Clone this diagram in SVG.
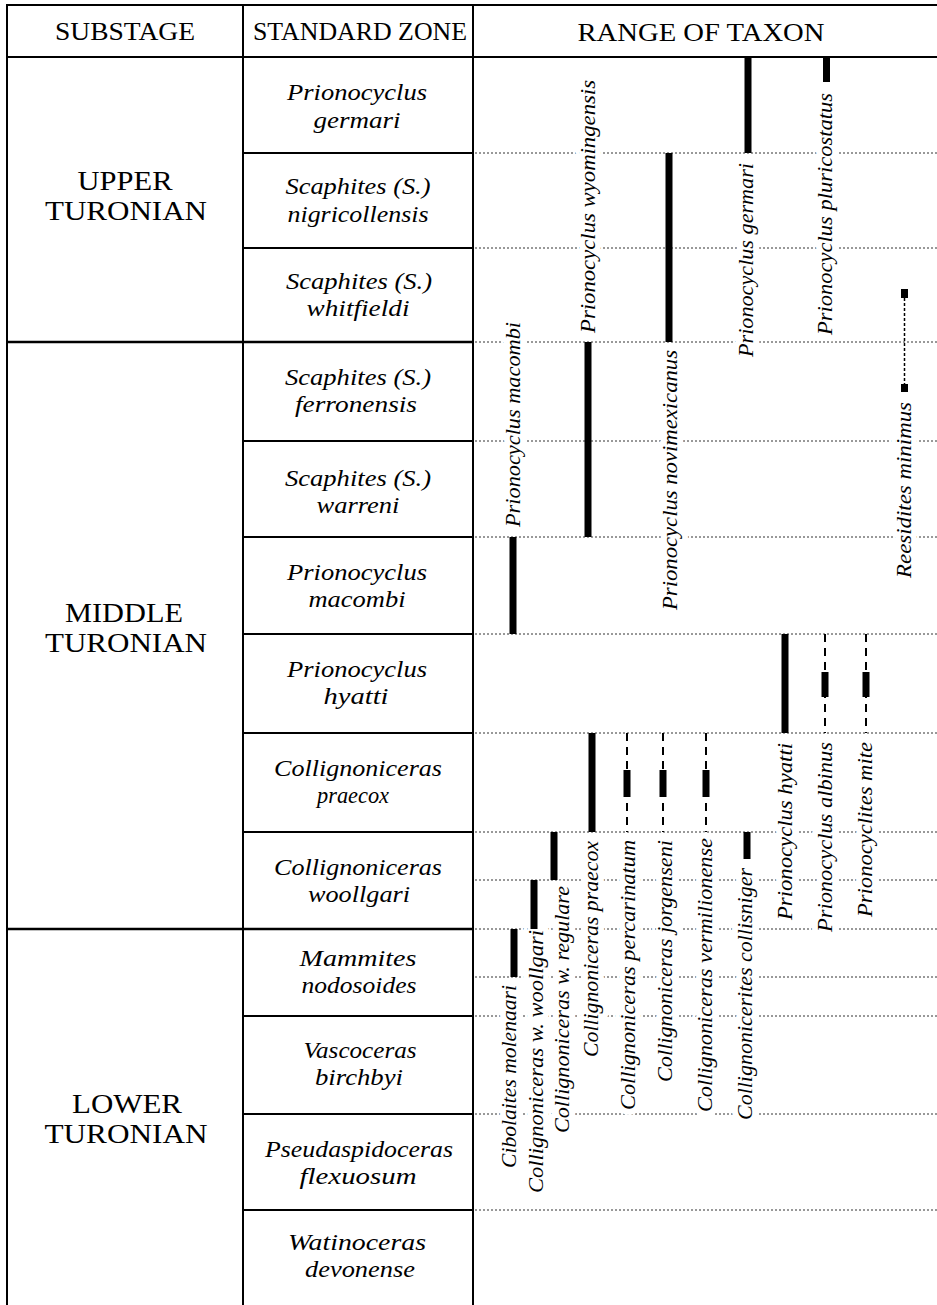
<svg xmlns="http://www.w3.org/2000/svg" width="937" height="1305" viewBox="0 0 937 1305">
<style>
.grid{stroke:#000;stroke-width:2;fill:none}
.sub{stroke:#000;stroke-width:2.5;fill:none}
.dot{stroke:#333;stroke-width:1;stroke-dasharray:2 2;fill:none}
.hd{font-family:"Liberation Serif","Times New Roman",serif;font-size:26px;fill:#000;text-anchor:middle}
.st{font-family:"Liberation Serif","Times New Roman",serif;font-size:27px;fill:#000;text-anchor:middle}
.zn{font-family:"Liberation Serif","Times New Roman",serif;font-style:italic;font-size:24px;fill:#000;text-anchor:middle}
.tx{font-family:"Liberation Serif","Times New Roman",serif;font-style:italic;font-size:22px;fill:#000;stroke:#fff;stroke-width:12px;stroke-linejoin:round;paint-order:stroke}
.bar{fill:#000}
.dash{stroke:#000;stroke-width:2;stroke-dasharray:8 6;fill:none}
.fine{stroke:#000;stroke-width:1.5;stroke-dasharray:3 2;fill:none}
</style>
<rect width="937" height="1305" fill="#fff"/>

<g id="zone-boundaries-range">
<line class="dot" x1="475" y1="153" x2="937" y2="153"/>
<line class="dot" x1="475" y1="248" x2="937" y2="248"/>
<line class="dot" x1="475" y1="342" x2="937" y2="342"/>
<line class="dot" x1="475" y1="441" x2="937" y2="441"/>
<line class="dot" x1="475" y1="537" x2="937" y2="537"/>
<line class="dot" x1="475" y1="634" x2="937" y2="634"/>
<line class="dot" x1="475" y1="733" x2="937" y2="733"/>
<line class="dot" x1="475" y1="832" x2="937" y2="832"/>
<line class="dot" x1="475" y1="880" x2="937" y2="880"/>
<line class="dot" x1="475" y1="929" x2="937" y2="929"/>
<line class="dot" x1="475" y1="977" x2="937" y2="977"/>
<line class="dot" x1="475" y1="1016" x2="937" y2="1016"/>
<line class="dot" x1="475" y1="1114" x2="937" y2="1114"/>
<line class="dot" x1="475" y1="1210" x2="937" y2="1210"/>
</g>

<g id="table-grid">
<line class="grid" x1="7" y1="5" x2="937" y2="5"/>
<line class="grid" x1="7" y1="57" x2="937" y2="57"/>
<line class="grid" x1="7" y1="4" x2="7" y2="1305"/>
<line class="grid" x1="243" y1="4" x2="243" y2="1305"/>
<line class="grid" x1="473" y1="4" x2="473" y2="1305"/>
<line class="sub" x1="7" y1="342" x2="473" y2="342"/>
<line class="sub" x1="7" y1="929" x2="473" y2="929"/>
<line class="grid" x1="243" y1="153" x2="473" y2="153"/>
<line class="grid" x1="243" y1="248" x2="473" y2="248"/>
<line class="grid" x1="243" y1="441" x2="473" y2="441"/>
<line class="grid" x1="243" y1="537" x2="473" y2="537"/>
<line class="grid" x1="243" y1="634" x2="473" y2="634"/>
<line class="grid" x1="243" y1="733" x2="473" y2="733"/>
<line class="grid" x1="243" y1="832" x2="473" y2="832"/>
<line class="grid" x1="243" y1="1016" x2="473" y2="1016"/>
<line class="grid" x1="243" y1="1114" x2="473" y2="1114"/>
<line class="grid" x1="243" y1="1210" x2="473" y2="1210"/>
</g>

<g id="headers">
<text class="hd" x="125" y="40" textLength="140" lengthAdjust="spacingAndGlyphs">SUBSTAGE</text>
<text class="hd" x="360" y="40" textLength="214" lengthAdjust="spacingAndGlyphs">STANDARD ZONE</text>
<text class="hd" x="701" y="41" textLength="247" lengthAdjust="spacingAndGlyphs">RANGE OF TAXON</text>
</g>

<g id="substage-upper">
<text class="st" x="125" y="190" textLength="95" lengthAdjust="spacingAndGlyphs">UPPER</text>
<text class="st" x="126" y="220" textLength="162" lengthAdjust="spacingAndGlyphs">TURONIAN</text>
</g>
<g id="substage-middle">
<text class="st" x="124" y="622" textLength="118" lengthAdjust="spacingAndGlyphs">MIDDLE</text>
<text class="st" x="126" y="652" textLength="162" lengthAdjust="spacingAndGlyphs">TURONIAN</text>
</g>
<g id="substage-lower">
<text class="st" x="127" y="1113" textLength="110" lengthAdjust="spacingAndGlyphs">LOWER</text>
<text class="st" x="126" y="1143" textLength="163" lengthAdjust="spacingAndGlyphs">TURONIAN</text>
</g>

<g id="zone-germari">
<text class="zn" x="357" y="100" textLength="140" lengthAdjust="spacingAndGlyphs">Prionocyclus</text>
<text class="zn" x="357" y="128" textLength="87" lengthAdjust="spacingAndGlyphs">germari</text>
</g>
<g id="zone-nigricollensis">
<text class="zn" x="358" y="194" textLength="145" lengthAdjust="spacingAndGlyphs">Scaphites (S.)</text>
<text class="zn" x="358" y="222" textLength="141" lengthAdjust="spacingAndGlyphs">nigricollensis</text>
</g>
<g id="zone-whitfieldi">
<text class="zn" x="359" y="289" textLength="146" lengthAdjust="spacingAndGlyphs">Scaphites (S.)</text>
<text class="zn" x="358" y="316" textLength="103" lengthAdjust="spacingAndGlyphs">whitfieldi</text>
</g>
<g id="zone-ferronensis">
<text class="zn" x="358" y="385" textLength="146" lengthAdjust="spacingAndGlyphs">Scaphites (S.)</text>
<text class="zn" x="356" y="412" textLength="122" lengthAdjust="spacingAndGlyphs">ferronensis</text>
</g>
<g id="zone-warreni">
<text class="zn" x="358" y="486" textLength="146" lengthAdjust="spacingAndGlyphs">Scaphites (S.)</text>
<text class="zn" x="358" y="513" textLength="83" lengthAdjust="spacingAndGlyphs">warreni</text>
</g>
<g id="zone-macombi">
<text class="zn" x="357" y="580" textLength="140" lengthAdjust="spacingAndGlyphs">Prionocyclus</text>
<text class="zn" x="357" y="607" textLength="97" lengthAdjust="spacingAndGlyphs">macombi</text>
</g>
<g id="zone-hyatti">
<text class="zn" x="357" y="677" textLength="140" lengthAdjust="spacingAndGlyphs">Prionocyclus</text>
<text class="zn" x="356" y="704" textLength="65" lengthAdjust="spacingAndGlyphs">hyatti</text>
</g>
<g id="zone-praecox">
<text class="zn" x="358" y="776" textLength="168" lengthAdjust="spacingAndGlyphs">Collignoniceras</text>
<text class="zn" x="353" y="803" textLength="72" lengthAdjust="spacingAndGlyphs">praecox</text>
</g>
<g id="zone-woollgari">
<text class="zn" x="358" y="875" textLength="168" lengthAdjust="spacingAndGlyphs">Collignoniceras</text>
<text class="zn" x="359" y="902" textLength="102" lengthAdjust="spacingAndGlyphs">woollgari</text>
</g>
<g id="zone-nodosoides">
<text class="zn" x="358" y="966" textLength="117" lengthAdjust="spacingAndGlyphs">Mammites</text>
<text class="zn" x="359" y="993" textLength="115" lengthAdjust="spacingAndGlyphs">nodosoides</text>
</g>
<g id="zone-birchbyi">
<text class="zn" x="360" y="1058" textLength="113" lengthAdjust="spacingAndGlyphs">Vascoceras</text>
<text class="zn" x="359" y="1085" textLength="88" lengthAdjust="spacingAndGlyphs">birchbyi</text>
</g>
<g id="zone-flexuosum">
<text class="zn" x="359" y="1157" textLength="188" lengthAdjust="spacingAndGlyphs">Pseudaspidoceras</text>
<text class="zn" x="358" y="1184" textLength="117" lengthAdjust="spacingAndGlyphs">flexuosum</text>
</g>
<g id="zone-devonense">
<text class="zn" x="357" y="1250" textLength="138" lengthAdjust="spacingAndGlyphs">Watinoceras</text>
<text class="zn" x="360" y="1277" textLength="110" lengthAdjust="spacingAndGlyphs">devonense</text>
</g>

<g id="taxon-labels">
<text class="tx" transform="translate(516,1168) rotate(-90)" textLength="183" lengthAdjust="spacingAndGlyphs">Cibolaites molenaari</text>
<text class="tx" transform="translate(543,1193) rotate(-90)" textLength="263" lengthAdjust="spacingAndGlyphs">Collignoniceras w. woollgari</text>
<text class="tx" transform="translate(569,1133) rotate(-90)" textLength="247" lengthAdjust="spacingAndGlyphs">Collignoniceras w. regulare</text>
<text class="tx" transform="translate(598,1057) rotate(-90)" textLength="216" lengthAdjust="spacingAndGlyphs">Collignoniceras praecox</text>
<text class="tx" transform="translate(635,1110) rotate(-90)" textLength="270" lengthAdjust="spacingAndGlyphs">Collignoniceras percarinatum</text>
<text class="tx" transform="translate(672,1082) rotate(-90)" textLength="242" lengthAdjust="spacingAndGlyphs">Collignoniceras jorgenseni</text>
<text class="tx" transform="translate(712,1112) rotate(-90)" textLength="274" lengthAdjust="spacingAndGlyphs">Collignoniceras vermilionense</text>
<text class="tx" transform="translate(752,1120) rotate(-90)" textLength="252" lengthAdjust="spacingAndGlyphs">Collignonicerites collisniger</text>
<text class="tx" transform="translate(792,920) rotate(-90)" textLength="177" lengthAdjust="spacingAndGlyphs">Prionocyclus hyatti</text>
<text class="tx" transform="translate(832,932) rotate(-90)" textLength="190" lengthAdjust="spacingAndGlyphs">Prionocyclus albinus</text>
<text class="tx" transform="translate(872,917) rotate(-90)" textLength="175" lengthAdjust="spacingAndGlyphs">Prionocyclites mite</text>
<text class="tx" transform="translate(520,527) rotate(-90)" textLength="205" lengthAdjust="spacingAndGlyphs">Prionocyclus macombi</text>
<text class="tx" transform="translate(595,333) rotate(-90)" textLength="253" lengthAdjust="spacingAndGlyphs">Prionocyclus wyomingensis</text>
<text class="tx" transform="translate(677,610) rotate(-90)" textLength="260" lengthAdjust="spacingAndGlyphs">Prionocyclus novimexicanus</text>
<text class="tx" transform="translate(753,357) rotate(-90)" textLength="194" lengthAdjust="spacingAndGlyphs">Prionocyclus germari</text>
<text class="tx" transform="translate(832,335) rotate(-90)" textLength="242" lengthAdjust="spacingAndGlyphs">Prionocyclus pluricostatus</text>
<text class="tx" transform="translate(911,578) rotate(-90)" textLength="176" lengthAdjust="spacingAndGlyphs">Reesidites minimus</text>
</g>

<g id="range-bars">
<rect class="bar" x="744.5" y="57" width="7" height="96"/>
<rect class="bar" x="823" y="57" width="7" height="25"/>
<rect class="bar" x="665.5" y="153" width="7" height="189"/>
<rect class="bar" x="584.5" y="342" width="7" height="195"/>
<rect class="bar" x="509.5" y="537" width="7" height="97"/>
<rect class="bar" x="781.5" y="634" width="7" height="99"/>
<line class="dash" x1="825" y1="634" x2="825" y2="733"/>
<rect class="bar" x="821.5" y="672" width="7" height="25"/>
<line class="dash" x1="866" y1="634" x2="866" y2="733"/>
<rect class="bar" x="862.5" y="672" width="7" height="25"/>
<rect class="bar" x="588.5" y="733" width="7" height="99"/>
<line class="dash" x1="627" y1="733" x2="627" y2="832"/>
<rect class="bar" x="623.5" y="770" width="7" height="27"/>
<line class="dash" x1="663" y1="733" x2="663" y2="832"/>
<rect class="bar" x="659.5" y="770" width="7" height="27"/>
<line class="dash" x1="706" y1="733" x2="706" y2="832"/>
<rect class="bar" x="702.5" y="770" width="7" height="27"/>
<rect class="bar" x="743.5" y="832" width="7" height="27"/>
<rect class="bar" x="550.5" y="832" width="7" height="48"/>
<rect class="bar" x="530.5" y="880" width="7" height="49"/>
<rect class="bar" x="510.5" y="929" width="7" height="48"/>
<line class="fine" x1="904.5" y1="298" x2="904.5" y2="384"/>
<rect class="bar" x="901" y="289" width="7" height="9"/>
<rect class="bar" x="901" y="384" width="7" height="8"/>
</g>
</svg>
